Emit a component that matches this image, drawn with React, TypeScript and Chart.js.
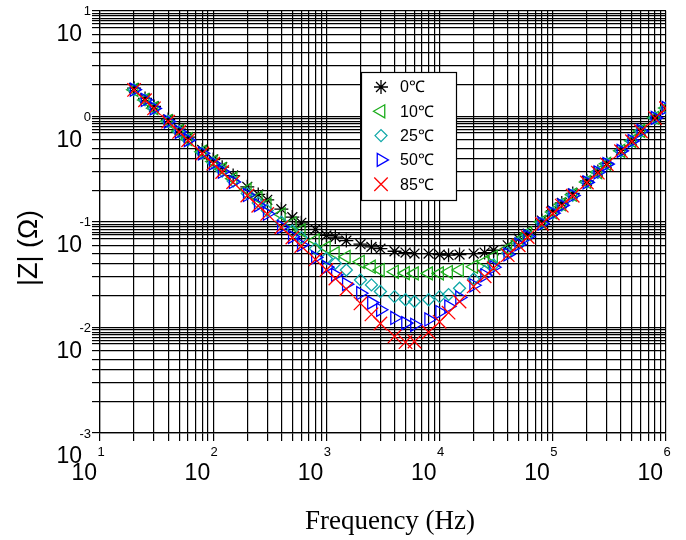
import React, { useEffect, useRef } from "react";
import { Chart, registerables } from "chart.js";
import { drawPoint } from "chart.js/helpers";

Chart.register(...registerables);

// Frequencies (Hz)
const FREQ = [
  20, 25, 30, 40, 50, 60, 80, 100, 120, 150, 200, 250, 300, 400, 500, 600, 800,
  1000, 1200, 1500, 2000, 2500, 3000, 4000, 5000, 6000, 8000, 10000, 12000, 15000,
  20000, 25000, 30000, 40000, 50000, 60000, 80000, 100000, 120000, 150000, 200000,
  250000, 300000, 400000, 500000, 600000, 800000, 1000000,
];

// |Z| (Ohm) per temperature
const Z_0C = [
  1.85, 1.48, 1.24, 0.935, 0.755, 0.635, 0.48, 0.39, 0.33, 0.275, 0.215, 0.182, 0.162, 0.132, 0.111, 0.098, 0.085,
  0.0745, 0.0718, 0.0665, 0.0615, 0.058, 0.0558, 0.0527, 0.0512, 0.0501, 0.0501, 0.049, 0.0484, 0.049,
  0.0501, 0.0512, 0.0539, 0.06, 0.0692, 0.0772, 0.103, 0.128, 0.151, 0.186, 0.244,
  0.3, 0.358, 0.475, 0.59, 0.732, 0.975, 1.205,
];
const Z_10C = [
  1.785, 1.43, 1.195, 0.9, 0.724, 0.607, 0.461, 0.373, 0.316, 0.257, 0.202, 0.169, 0.146, 0.118, 0.097, 0.083, 0.067,
  0.057, 0.0505, 0.0467, 0.0419, 0.0376, 0.035, 0.0337, 0.0327, 0.0325, 0.0325, 0.0325, 0.0335, 0.035,
  0.0376, 0.0419, 0.0467, 0.0555, 0.0665, 0.078, 0.1, 0.124, 0.147, 0.181, 0.239,
  0.296, 0.355, 0.472, 0.586, 0.728, 0.97, 1.2,
];
const Z_25C = [
  1.79, 1.43, 1.19, 0.893, 0.715, 0.597, 0.449, 0.361, 0.303, 0.244, 0.186, 0.151, 0.128, 0.0993, 0.0821, 0.071, 0.0558,
  0.045, 0.0405, 0.035, 0.0282, 0.0253, 0.0219, 0.0196, 0.0183, 0.0176, 0.0183, 0.0196, 0.0205, 0.0235,
  0.0288, 0.034, 0.0391, 0.0507, 0.0627, 0.0745, 0.0975, 0.1215, 0.1445, 0.179, 0.238,
  0.295, 0.354, 0.47, 0.584, 0.725, 0.965, 1.197,
];
const Z_50C = [
  1.79, 1.43, 1.19, 0.893, 0.714, 0.595, 0.447, 0.358, 0.299, 0.239, 0.18, 0.144, 0.1195, 0.0898, 0.0722, 0.0605, 0.046,
  0.0373, 0.0315, 0.0257, 0.0211, 0.0172, 0.0147, 0.0123, 0.011, 0.0106, 0.0119, 0.014, 0.0158, 0.0192,
  0.0251, 0.0312, 0.0372, 0.0492, 0.0612, 0.0728, 0.0965, 0.121, 0.1435, 0.178, 0.237,
  0.295, 0.353, 0.471, 0.585, 0.727, 0.968, 1.2,
];
const Z_85C = [
  1.78, 1.42, 1.19, 0.89, 0.712, 0.593, 0.445, 0.356, 0.297, 0.237, 0.178, 0.142, 0.119, 0.0888, 0.071, 0.059, 0.0441,
  0.0351, 0.0291, 0.0231, 0.0169, 0.0133, 0.0109, 0.00822, 0.00726, 0.00735, 0.009, 0.0113, 0.0138, 0.0176,
  0.0245, 0.0305, 0.0364, 0.0484, 0.06, 0.0718, 0.0957, 0.12, 0.1426, 0.177, 0.236,
  0.293, 0.351, 0.468, 0.581, 0.722, 0.962, 1.194,
];

const SERIES_LABELS = ["0℃", "10℃", "25℃", "50℃", "85℃"];
const SERIES_VALUES = [Z_0C, Z_10C, Z_25C, Z_50C, Z_85C];
const SERIES_COLORS = ["#000000", "#1cad1c", "#10a8a8", "#0000ff", "#ff0000"];
const SERIES_STYLES = ["star", "triangle", "rectRot", "triangle", "crossRot"];
const SERIES_ROTATION = [0, -90, 0, 90, 0];
const SERIES_RADIUS = [7, 7.5, 6, 7.5, 9.5];

const X_EXPONENTS = [1, 2, 3, 4, 5, 6];
const Y_EXPONENTS = [1, 0, -1, -2, -3];
const X_GRID_STEPS = [1, 2, 3, 4, 5, 6, 7, 8, 9];
const Y_GRID_STEPS = [1, 2, 3, 4, 5, 6, 7, 7.5, 8, 8.5, 9, 9.5];

const X_TITLE = "Frequency (Hz)";
const Y_TITLE = "|Z| (Ω)";

function gridValues(minExp: number, maxExp: number, steps: number[]): number[] {
  const out: number[] = [];
  for (let e = minExp; e < maxExp; e++) {
    for (const m of steps) out.push(m * Math.pow(10, e));
  }
  out.push(Math.pow(10, maxExp));
  return out;
}

const SANS = '"Liberation Sans", Arial, Helvetica, sans-serif';
const SERIF = '"Liberation Serif", "Times New Roman", serif';

const decorPlugin = {
  id: "decor",
  afterDraw(chart: any) {
    const ctx: CanvasRenderingContext2D = chart.ctx;
    const xs = chart.scales.x;
    const ys = chart.scales.y;
    ctx.save();
    ctx.fillStyle = "#000";

    // Y tick labels: 10 with exponent
    for (const e of Y_EXPONENTS) {
      const py = ys.getPixelForValue(Math.pow(10, e));
      ctx.textBaseline = "middle";
      ctx.textAlign = "right";
      ctx.font = `13px ${SANS}`;
      ctx.fillText(String(e), 91, py + 1);
      ctx.font = `23px ${SANS}`;
      ctx.fillText("10", 82, py + 24);
    }
    // X tick labels
    for (const e of X_EXPONENTS) {
      const px = xs.getPixelForValue(Math.pow(10, e));
      ctx.textBaseline = "middle";
      ctx.textAlign = "center";
      ctx.font = `13px ${SANS}`;
      ctx.fillText(String(e), px + 1, 452);
      ctx.textAlign = "right";
      ctx.font = `23px ${SANS}`;
      ctx.fillText("10", px - 3, 474);
    }

    // Axis titles
    ctx.textAlign = "center";
    ctx.textBaseline = "middle";
    ctx.font = `27px ${SERIF}`;
    ctx.fillText(X_TITLE, 390, 522);

    ctx.save();
    ctx.translate(30, 248);
    ctx.rotate(-Math.PI / 2);
    ctx.font = `27px ${SANS}`;
    ctx.fillText(Y_TITLE, 0, 0);
    ctx.restore();

    // Legend box
    const bx = 361.5, by = 72.5, bw = 95, bh = 128;
    ctx.fillStyle = "#fff";
    ctx.fillRect(bx, by, bw, bh);
    ctx.strokeStyle = "#000";
    ctx.lineWidth = 1.2;
    ctx.strokeRect(bx, by, bw, bh);

    const rowY0 = 87;
    const rowStep = 24.3;
    for (let i = 0; i < SERIES_LABELS.length; i++) {
      const y = rowY0 + i * rowStep;
      ctx.strokeStyle = SERIES_COLORS[i];
      ctx.fillStyle = "rgba(0,0,0,0)";
      ctx.lineWidth = 1.3;
      drawPoint(
        ctx,
        {
          pointStyle: SERIES_STYLES[i],
          rotation: SERIES_ROTATION[i],
          radius: SERIES_RADIUS[i],
          borderWidth: 1.3,
        } as any,
        381,
        y
      );
      ctx.fillStyle = "#000";
      ctx.font = `16px ${SANS}`;
      ctx.textAlign = "left";
      ctx.textBaseline = "middle";
      ctx.fillText(SERIES_LABELS[i], 400, y + 1);
    }
    ctx.restore();
  },
};

export default function App() {
  const canvasRef = useRef<HTMLCanvasElement | null>(null);

  useEffect(() => {
    const canvas = canvasRef.current;
    if (!canvas) return;

    const datasets = SERIES_LABELS.map((label, i) => ({
      label,
      data: FREQ.map((f, j) => ({ x: f, y: SERIES_VALUES[i][j] })),
      showLine: false,
      borderColor: SERIES_COLORS[i],
      backgroundColor: "rgba(0,0,0,0)",
      pointBorderColor: SERIES_COLORS[i],
      pointBackgroundColor: "rgba(0,0,0,0)",
      pointStyle: SERIES_STYLES[i],
      pointRotation: SERIES_ROTATION[i],
      pointRadius: SERIES_RADIUS[i],
      pointBorderWidth: 1.3,
      order: SERIES_LABELS.length - i,
    }));

    const gridOpts = { color: "#000", lineWidth: 1.2, tickLength: 8, drawTicks: true };

    const chart = new Chart(canvas, {
      type: "scatter",
      data: { datasets } as any,
      options: {
        animation: false,
        responsive: true,
        maintainAspectRatio: false,
        devicePixelRatio: 1,
        layout: { padding: { top: 7, right: 20, left: 0, bottom: 0 } },
        plugins: {
          legend: { display: false },
          tooltip: { enabled: false },
        },
        scales: {
          x: {
            type: "logarithmic",
            min: 10,
            max: 1e6,
            afterBuildTicks: (scale: any) => {
              scale.ticks = gridValues(1, 6, X_GRID_STEPS).map((v) => ({ value: v }));
            },
            afterFit: (scale: any) => {
              scale.height = 107;
            },
            ticks: { display: false },
            grid: gridOpts,
            border: { display: true, color: "#000", width: 1.2 },
          },
          y: {
            type: "logarithmic",
            min: 1e-3,
            max: 10,
            afterBuildTicks: (scale: any) => {
              scale.ticks = gridValues(-3, 1, Y_GRID_STEPS).map((v) => ({ value: v }));
            },
            afterFit: (scale: any) => {
              scale.width = 100;
            },
            ticks: { display: false },
            grid: gridOpts,
            border: { display: true, color: "#000", width: 1.2 },
          },
        },
      } as any,
      plugins: [decorPlugin],
    });

    return () => chart.destroy();
  }, []);

  return (
    <div style={{ position: "absolute", left: 0, top: 0, width: 686, height: 540, background: "#fff" }}>
      <canvas ref={canvasRef} />
    </div>
  );
}
